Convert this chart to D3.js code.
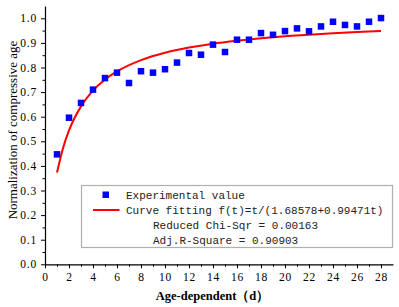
<!DOCTYPE html>
<html>
<head>
<meta charset="utf-8">
<script src="https://cdn.jsdelivr.net/npm/d3@7/dist/d3.min.js"></script>
<style>
  body { margin: 0; background: #fff; }
  .legend text { font-family: "Liberation Mono", monospace; font-size: 11px; }
</style>
</head>
<body>
<div id="chart"></div>
<script>
// experimental points (age in days, normalized value)
var days = [1,2,3,4,5,6,7,8,9,10,11,12,13,14,15,16,17,18,19,20,21,22,23,24,25,26,27,28];
var expValues = [0.447,0.596,0.656,0.710,0.757,0.779,0.737,0.785,0.779,0.793,0.820,0.859,0.852,0.893,
                 0.863,0.913,0.913,0.940,0.933,0.948,0.959,0.947,0.967,0.986,0.973,0.967,0.986,1.001];

// fitted curve
var fitDays = [1,1.5,2,3,4,5,6,8,10,12,14,16,18,20,22,24,26,28];
var fitValues = [0.373,0.472,0.544,0.642,0.706,0.751,0.784,0.830,0.860,0.881,0.897,0.909,0.919,0.927,0.933,0.939,0.944,0.948];

var xTicks = [0,2,4,6,8,10,12,14,16,18,20,22,24,26,28];
var yTicks = [0,0.1,0.2,0.3,0.4,0.5,0.6,0.7,0.8,0.9,1.0];

var legendLabels = ["Experimental value", "Curve fitting f(t)=t/(1.68578+0.99471t)",
                    "Reduced Chi-Sqr = 0.00163", "Adj.R-Square = 0.90903"];

var w = 399, h = 307;
var padL = 45, padR = 393, padT = 6, padB = 264.3;

var svg = d3.select("#chart").append("svg")
    .attr("width", w)
    .attr("height", h);

var xScale = d3.scaleLinear().domain([0, 29]).range([padL, padR]);
var yScale = d3.scaleLinear().domain([0, 1.05]).range([padB, padT]);

// minor ticks first
var xMinor = d3.range(1, 29, 2);
var yMinor = d3.range(0.05, 1.05, 0.1);

svg.append("g")
    .attr("transform", "translate(0," + padB + ")")
    .call(d3.axisBottom(xScale).tickValues(xMinor).tickSize(2.5).tickFormat(""))
    .call(function(g){ g.select(".domain").remove(); });

svg.append("g")
    .attr("transform", "translate(" + padL + ",0)")
    .call(d3.axisLeft(yScale).tickValues(yMinor).tickSize(2.5).tickFormat(""))
    .call(function(g){ g.select(".domain").remove(); });

// X axis
svg.append("g")
    .attr("class", "x axis")
    .attr("transform", "translate(0," + padB + ")")
    .call(d3.axisBottom(xScale).tickValues(xTicks).tickSize(4).tickSizeOuter(0).tickPadding(5))
    .call(function(g){ g.select(".domain").attr("stroke-width", 1.2); });

// Y axis
svg.append("g")
    .attr("class", "y axis")
    .attr("transform", "translate(" + padL + ",0)")
    .call(d3.axisLeft(yScale).tickValues(yTicks).tickSize(4).tickSizeOuter(0).tickPadding(4)
        .tickFormat(d3.format(".1f")))
    .call(function(g){ g.select(".domain").attr("stroke-width", 1.2); });

svg.selectAll(".axis")
    .attr("font-family", "Liberation Serif, serif")
    .attr("font-size", 11.5);
svg.selectAll(".tick text")
    .attr("fill", "#000")
    .attr("letter-spacing", "0.8px");

// axis titles
svg.append("text")
    .attr("x", 212.5)
    .attr("y", 300)
    .attr("text-anchor", "middle")
    .attr("font-family", "Liberation Serif, serif")
    .attr("font-weight", "bold")
    .attr("font-size", "12.5px")
    .text("Age-dependent（d）");

svg.append("text")
    .attr("transform", "translate(16.5,130) rotate(-90)")
    .attr("text-anchor", "middle")
    .attr("font-family", "Liberation Serif, serif")
    .attr("font-size", "13px")
    .attr("fill", "#000")
    .text("Normalization of compressive age");

// fitted curve
var line = d3.line()
    .x(function(d, i){ return xScale(fitDays[i]); })
    .y(function(d){ return yScale(d); })
    .curve(d3.curveMonotoneX);

svg.append("path")
    .datum(fitValues)
    .attr("d", line)
    .attr("fill", "none")
    .attr("stroke", "#ff0000")
    .attr("stroke-width", 2);

// experimental points
var sq = 6.5;
svg.selectAll("rect.pt")
    .data(expValues)
    .enter().append("rect")
    .attr("class", "pt")
    .attr("x", function(d, i){ return xScale(days[i]) - sq / 2; })
    .attr("y", function(d){ return yScale(d) - sq / 2; })
    .attr("width", sq)
    .attr("height", sq)
    .attr("fill", "#0000ff");

// legend
var lg = svg.append("g").attr("class", "legend");
lg.append("rect")
    .attr("x", 81.5).attr("y", 185.5)
    .attr("width", 311).attr("height", 62)
    .attr("fill", "#fff")
    .attr("stroke", "#b0b0b0")
    .attr("stroke-width", 1.2);

lg.append("rect")
    .attr("x", 102.5).attr("y", 191.5)
    .attr("width", 6.5).attr("height", 6.5)
    .attr("fill", "#0000ff");

lg.append("line")
    .attr("x1", 93).attr("x2", 119.5)
    .attr("y1", 210).attr("y2", 210)
    .attr("stroke", "#ff0000")
    .attr("stroke-width", 2);

var legX = [126, 126, 153, 153];
var legY = [199, 214, 229, 244];
lg.selectAll("text.lbl")
    .data(legendLabels)
    .enter().append("text")
    .attr("class", "lbl")
    .attr("x", function(d, i){ return legX[i]; })
    .attr("y", function(d, i){ return legY[i]; })
    .attr("fill", "#222")
    .text(function(d){ return d; });
</script>
</body>
</html>
